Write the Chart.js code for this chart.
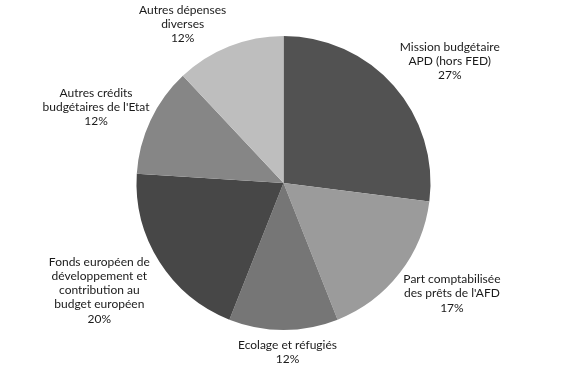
<!DOCTYPE html>
<html>
<head>
<meta charset="utf-8">
<script src="https://cdn.jsdelivr.net/npm/chart.js@4"></script>
<style>
  html, body { margin: 0; padding: 0; background: #fff; }
  #wrap { width: 567px; height: 370px; }
</style>
</head>
<body>
<div id="wrap"><canvas id="pie"></canvas></div>
<script>
// données (en %)
const categories = [
  ['Mission budgétaire', 'APD (hors FED)'],
  ['Part comptabilisée', 'des prêts de l\'AFD'],
  ['Ecolage et réfugiés'],
  ['Fonds européen de', 'développement et', 'contribution au', 'budget européen'],
  ['Autres crédits', 'budgétaires de l\'Etat'],
  ['Autres dépenses', 'diverses']
];
const shares = [27, 17, 12, 20, 12, 12];
const sliceColors = ['#525252', '#9b9b9b', '#767676', '#474747', '#868686', '#bebebe'];

// petits décalages des étiquettes (mise en page uniquement)
const labelNudge = [[11, -4], [6, 1], [4, -2], [-9, 4], [3, 0], [-27, 7]];

// étiquettes extérieures, placées depuis la géométrie des arcs
const outsideLabels = {
  id: 'outsideLabels',
  afterDatasetsDraw(chart) {
    const ctx = chart.ctx;
    const meta = chart.getDatasetMeta(0);
    const lineH = 14.3;
    ctx.save();
    ctx.font = '12px Lato, "Open Sans", sans-serif';
    ctx.fillStyle = '#1a1a1a';
    ctx.textAlign = 'center';
    ctx.textBaseline = 'middle';
    meta.data.forEach((arc, i) => {
      const lines = categories[i].concat([shares[i] + '%']);
      const mid = (arc.startAngle + arc.endAngle) / 2;
      const ux = Math.cos(mid), uy = Math.sin(mid);
      let hw = 0;
      lines.forEach(l => { hw = Math.max(hw, ctx.measureText(l).width / 2); });
      const hh = lines.length * lineH / 2;
      const gap = 10;
      const cx = arc.x + ux * (arc.outerRadius + gap) + ux * hw + labelNudge[i][0];
      const cy = arc.y + uy * (arc.outerRadius + gap) + uy * hh + labelNudge[i][1];
      lines.forEach((l, k) => {
        ctx.fillText(l, cx, cy - hh + lineH * (k + 0.5));
      });
    });
    ctx.restore();
  }
};

new Chart(document.getElementById('pie'), {
  type: 'pie',
  data: {
    labels: categories.map(c => c.join(' ')),
    datasets: [{
      data: shares,
      backgroundColor: sliceColors,
      borderWidth: 0
    }]
  },
  options: {
    responsive: true,
    maintainAspectRatio: false,
    animation: false,
    layout: { padding: { top: 36, bottom: 40, left: 0, right: 0 } },
    plugins: {
      legend: { display: false },
      tooltip: { enabled: false }
    }
  },
  plugins: [outsideLabels]
});
</script>
</body>
</html>
